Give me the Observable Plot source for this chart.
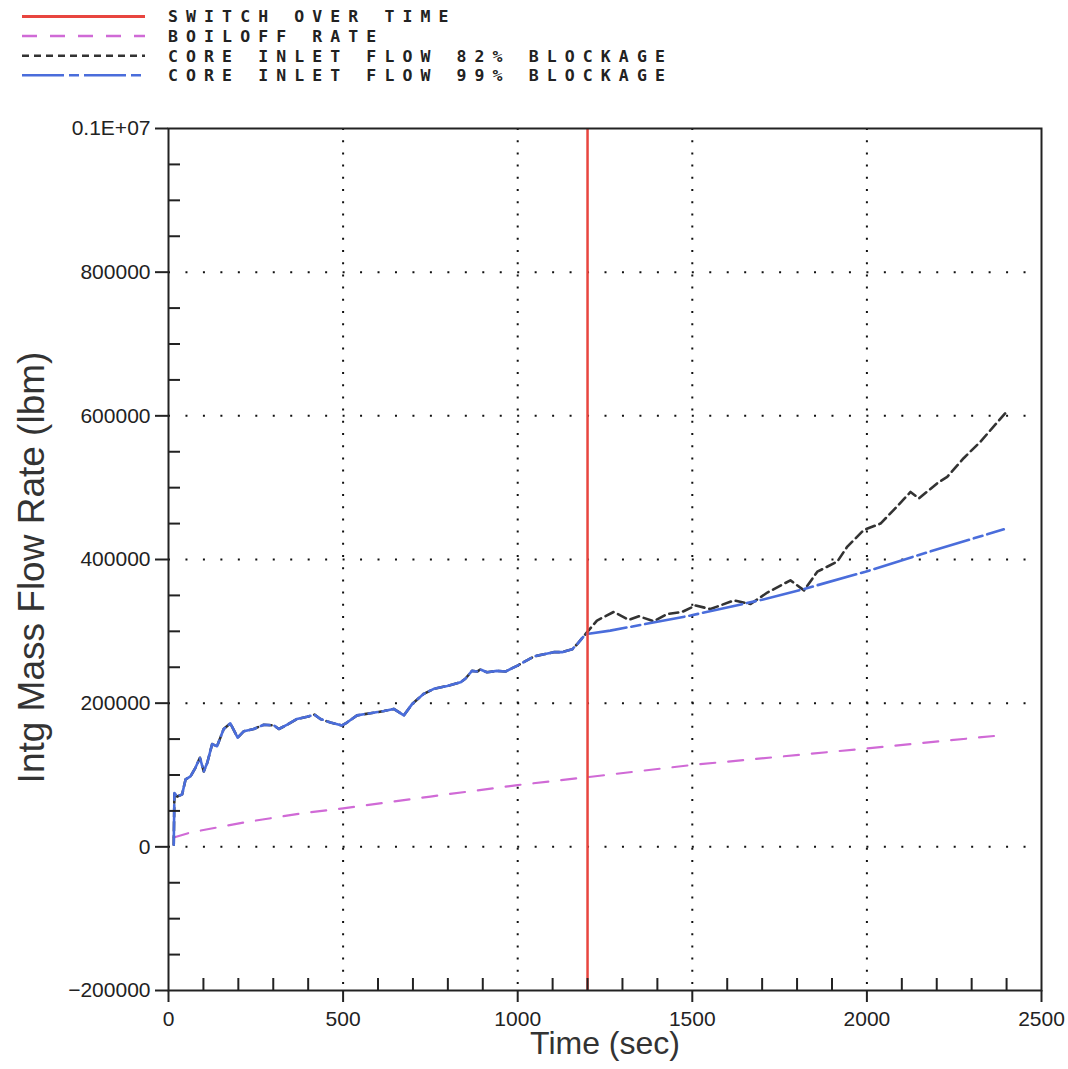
<!DOCTYPE html>
<html><head><meta charset="utf-8">
<script src="https://cdn.jsdelivr.net/npm/d3@7"></script>
<script src="https://cdn.jsdelivr.net/npm/@observablehq/plot@0.6"></script>
<style>
body{margin:0;background:#fff;}
#wrap{position:relative;width:1068px;height:1069px;background:#fff;}
#legend{position:absolute;left:0;top:0;}
#chart{position:absolute;left:0;top:100px;}
</style></head><body>
<div id="wrap"><div id="legend"></div><div id="chart"></div></div>
<script>
// ---- data ----
const switchTime = 1200;

const legendLabels = ["SWITCH OVER TIME", "BOILOFF RATE", "CORE INLET FLOW 82% BLOCKAGE", "CORE INLET FLOW 99% BLOCKAGE"];

const boiloffTime = [15, 63, 216, 387, 500, 750, 1000, 1200, 1500, 2000, 2400];
const boiloffFlow = [13000, 20000, 34000, 47000, 53500, 70000, 86000, 97000, 114000, 137000, 156000];

// shared core inlet flow history before switch over (both cases coincide)
const preTime = [15, 17, 25, 39, 49, 63, 77, 90, 101, 111, 125, 139, 158, 177, 198, 216, 244, 273, 302, 316, 340, 368, 397, 418, 435, 464, 497, 511, 540, 578, 617, 645, 674, 698, 731, 760, 798, 836, 850, 869, 884, 893, 912, 941, 965, 998, 1017, 1046, 1075, 1103, 1127, 1156, 1170, 1194];
const preFlow = [3000, 75000, 70000, 73000, 94000, 98000, 110000, 124000, 105000, 117000, 143000, 140000, 164000, 172000, 152000, 161000, 164000, 170000, 169000, 164000, 170000, 178000, 181000, 184000, 178000, 173000, 169000, 173000, 183000, 186000, 189000, 192000, 183000, 199000, 213000, 220000, 224000, 229000, 234000, 245000, 244000, 247000, 243000, 245000, 244000, 252000, 257000, 265000, 268000, 271000, 271000, 275000, 282000, 296000];

const post82Time = [1227, 1275, 1318, 1347, 1390, 1428, 1471, 1509, 1552, 1619, 1667, 1715, 1781, 1820, 1858, 1915, 1944, 1991, 2039, 2077, 2125, 2149, 2201, 2230, 2277, 2325, 2397];
const post82Flow = [315000, 327000, 316000, 321000, 314000, 324000, 327000, 336000, 331000, 343000, 338000, 354000, 371000, 357000, 383000, 397000, 418000, 441000, 450000, 469000, 494000, 485000, 506000, 515000, 541000, 564000, 604000];

const post99Time = [1265, 1495, 1700, 1820, 1996, 2173, 2392];
const post99Flow = [301000, 322000, 344000, 359000, 383000, 410000, 442000];

const xMajor = [0, 500, 1000, 1500, 2000, 2500];
const xMinor = d3.range(100, 2500, 100).filter(v => v % 500 !== 0);
const yMajor = [-200000, 0, 200000, 400000, 600000, 800000, 1000000];
const yTickLabels = ["\u2212200000", "0", "200000", "400000", "600000", "800000", "0.1E+07"];
const yMinor = d3.range(-150000, 1000000, 50000).filter(v => v % 200000 !== 0);
const xGrid = [500, 1000, 1500, 2000];
const yGrid = [0, 200000, 400000, 600000, 800000];

// ---- build series ----
const boiloff = boiloffTime.map((t, i) => ({t, v: boiloffFlow[i]}));
const pre = preTime.map((t, i) => ({t, v: preFlow[i]}));
const flow82 = pre.concat(post82Time.map((t, i) => ({t, v: post82Flow[i]})));
const flow99 = pre.concat(post99Time.map((t, i) => ({t, v: post99Flow[i]})));

const C = {red: "#e8453f", magenta: "#d06ad6", black: "#333333", blue: "#4a6ddb"};
const font = "'Liberation Sans', Arial, sans-serif";

// ---- legend ----
const legendStyles = [
  {stroke: C.red, dash: null, w: 3},
  {stroke: C.magenta, dash: "15,13", w: 2.5},
  {stroke: C.black, dash: "7,5", w: 2.5},
  {stroke: C.blue, dash: "42,5,10,5", w: 2.5}
];
const lg = d3.select("#legend").append("svg").attr("width", 1068).attr("height", 100);
legendLabels.forEach((lab, i) => {
  const y = 16.5 + i * 19.6;
  const s = legendStyles[i];
  lg.append("line").attr("x1", 22).attr("x2", 145).attr("y1", y).attr("y2", y)
    .attr("stroke", s.stroke).attr("stroke-width", s.w)
    .attr("stroke-dasharray", s.dash);
  lg.append("text").attr("x", 168).attr("y", y).attr("dy", "0.36em")
    .attr("font-family", "'DejaVu Sans Mono', monospace").attr("font-size", 16.5)
    .attr("font-weight", "bold").attr("letter-spacing", "8.1px").attr("fill", "#222")
    .text(lab);
});

// ---- chart ----
const chart = Plot.plot({
  width: 1068, height: 969,
  marginLeft: 168, marginRight: 27, marginTop: 28, marginBottom: 79,
  style: {fontFamily: font, background: "transparent"},
  x: {domain: [0, 2500]},
  y: {domain: [-200000, 1000000]},
  marks: [
    Plot.gridX(xGrid, {stroke: "#111", strokeOpacity: 1, strokeWidth: 2, strokeDasharray: "2,10.2"}),
    Plot.gridY(yGrid, {stroke: "#111", strokeOpacity: 1, strokeWidth: 2, strokeDasharray: "2,15.46"}),
    Plot.line(boiloff, {x: "t", y: "v", stroke: C.magenta, strokeWidth: 2.2, strokeDasharray: "15,13"}),
    Plot.line(flow82, {x: "t", y: "v", stroke: C.black, strokeWidth: 2.6, strokeDasharray: "9,5"}),
    Plot.line(flow99, {x: "t", y: "v", stroke: C.blue, strokeWidth: 2.6, strokeDasharray: "40,5,9,5"}),
    Plot.ruleX([switchTime], {stroke: C.red, strokeWidth: 2.5}),
    Plot.frame({stroke: "#222", strokeWidth: 2}),
    Plot.axisX(xMajor, {anchor: "bottom", tickSize: 12, tickPadding: 9, fontSize: 21, label: null, stroke: "#222", strokeWidth: 2, fill: "#222",
      tickFormat: d => String(d)}),
    Plot.axisX(xMinor, {anchor: "bottom", tickSize: 12, dy: -12, tickFormat: () => "", label: null, stroke: "#222", strokeWidth: 2}),
    Plot.axisY(yMajor, {anchor: "left", tickSize: 13, tickPadding: 5, fontSize: 21, label: null, stroke: "#222", strokeWidth: 2, fill: "#222",
      tickFormat: d => yTickLabels[yMajor.indexOf(d)]}),
    Plot.axisY(yMinor, {anchor: "left", tickSize: 12, dx: 12, tickFormat: () => "", label: null, stroke: "#222", strokeWidth: 2}),
    Plot.text(["Time (sec)"], {frameAnchor: "bottom", dy: 63, fontSize: 32, fill: "#333"}),
    Plot.text(["Intg Mass Flow Rate (lbm)"], {frameAnchor: "left", textAnchor: "middle", dx: -136, dy: 8, rotate: -90, fontSize: 37, fill: "#333"})
  ]
});
document.getElementById("chart").appendChild(chart);
</script>
</body></html>
